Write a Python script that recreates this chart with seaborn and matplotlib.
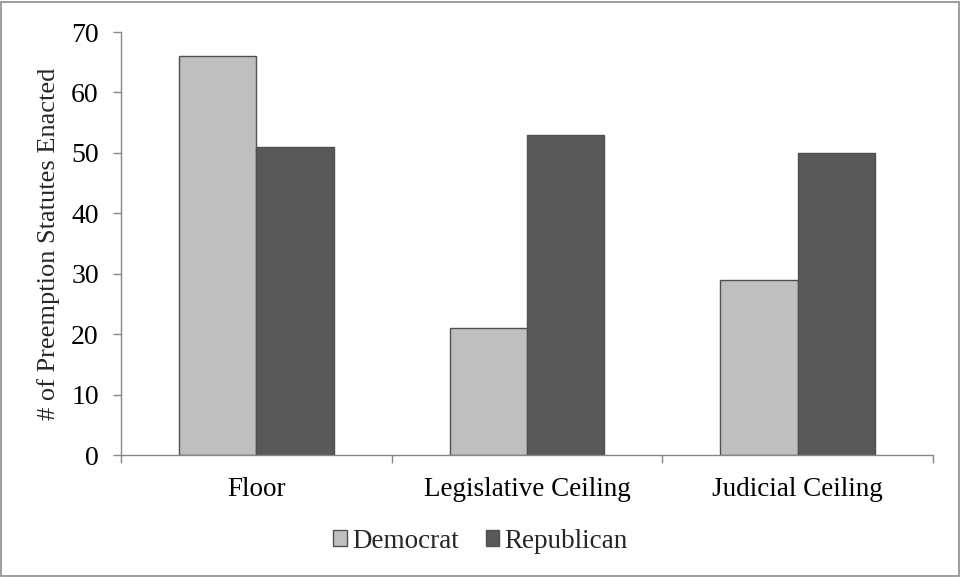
import matplotlib
matplotlib.use("Agg")
import matplotlib.pyplot as plt
from matplotlib.patches import Rectangle
import seaborn as sns
import pandas as pd

categories = ["Floor", "Legislative Ceiling", "Judicial Ceiling"]
democrat = [66, 21, 29]
republican = [51, 53, 50]
parties = ["Democrat", "Republican"]
y_ticks = [0, 10, 20, 30, 40, 50, 60, 70]

df = pd.DataFrame({
    "category": categories * 2,
    "party": [parties[0]] * 3 + [parties[1]] * 3,
    "count": democrat + republican,
})

sns.set_theme(style="white")
plt.rcParams["font.family"] = ["Liberation Serif", "DejaVu Serif"]

fig = plt.figure(figsize=(9.61, 5.77), dpi=100)
ax = fig.add_axes([0.1259, 0.2114, 0.845, 0.7331])

axis_grey = "#878787"
sns.barplot(
    data=df, x="category", y="count", hue="party", order=categories,
    hue_order=parties, palette=["#bfbfbf", "#595959"], width=2 / 3.5,
    edgecolor="#505050", linewidth=1.0, saturation=1, ax=ax, legend=False,
)

ax.set_xlim(-0.5, 2.5)
ax.set_ylim(0, 70)
ax.set_yticks(y_ticks)
ax.tick_params(axis="y", labelsize=20, length=6, width=1, color=axis_grey,
               direction="out", left=True, pad=10, labelcolor="black")
ax.set_xticks(range(len(categories)))
ax.set_xticklabels(categories)
ax.tick_params(axis="x", which="major", length=0, labelsize=19.5, pad=16,
               labelcolor="black")
ax.set_xticks([-0.5, 0.5, 1.5, 2.5], minor=True)
ax.tick_params(axis="x", which="minor", length=6, width=1, color=axis_grey,
               direction="out", bottom=True)
ax.set_xlabel("")
ax.set_ylabel("# of Preemption Statutes Enacted", fontsize=19, labelpad=8)

for side in ["top", "right"]:
    ax.spines[side].set_visible(False)
for side in ["left", "bottom"]:
    ax.spines[side].set_color(axis_grey)
    ax.spines[side].set_linewidth(1)

handles = [Rectangle((0, 0), 1, 1, facecolor=c, edgecolor="#505050", linewidth=1)
           for c in ["#bfbfbf", "#595959"]]
fig.legend(handles, parties, loc="center", bbox_to_anchor=(0.5, 0.062),
           ncol=2, frameon=False, fontsize=19.5, handlelength=0.5,
           handleheight=0.5, handletextpad=0.2, columnspacing=1.0)

fig.patches.append(Rectangle((0.001, 0.001), 0.997, 0.996, transform=fig.transFigure,
                             fill=False, edgecolor="#8c8c8c", linewidth=1.2))

fig.savefig("out.png", dpi=100)
